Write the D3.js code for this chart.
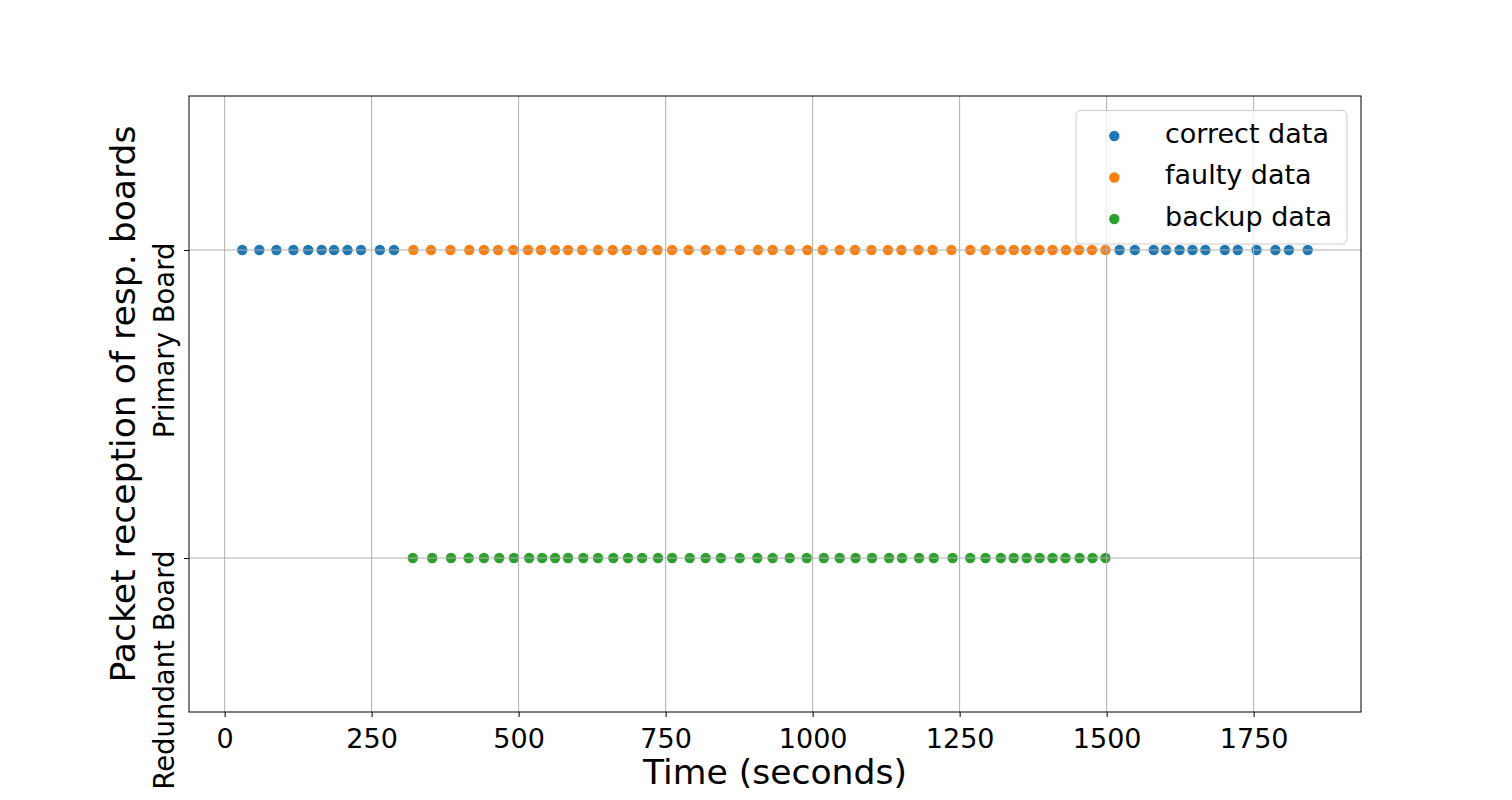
<!DOCTYPE html>
<html>
<head>
<meta charset="utf-8">
<script src="https://cdn.jsdelivr.net/npm/d3@7"></script>
<style>
  html, body { margin: 0; padding: 0; background: #ffffff; }
  svg { display: block; font-family: "DejaVu Sans", sans-serif; }
</style>
</head>
<body>
<svg id="chart" width="1512" height="800"></svg>
<script>
// ---- data ----
const categories = ["Redundant Board", "Primary Board"];
const seriesNames = ["correct data", "faulty data", "backup data"];
const seriesColors = ["#1f77b4", "#ff7f0e", "#2ca02c"];
const seriesBoards = ["Primary Board", "Primary Board", "Redundant Board"];

const correctTimes = [30, 59, 88, 117, 142, 165, 186, 209, 232, 264, 288,
  1522, 1548, 1580, 1601, 1624, 1646, 1668, 1701, 1723, 1755, 1787, 1810, 1842];
const faultyTimes = [321, 351, 384, 416, 441, 465, 491, 516, 538, 562, 584, 608,
  635, 660, 684, 710, 736, 761, 789, 818, 844, 876, 907, 932, 961, 991, 1017,
  1046, 1072, 1100, 1128, 1151, 1180, 1204, 1236, 1268, 1294, 1320, 1342, 1363,
  1386, 1408, 1431, 1453, 1475, 1498];
const backupTimes = [320, 353, 385, 415, 441, 467, 492, 518, 540, 562, 584, 610,
  635, 661, 686, 710, 737, 761, 791, 818, 844, 876, 906, 932, 961, 990, 1019,
  1046, 1073, 1101, 1130, 1152, 1181, 1206, 1238, 1268, 1294, 1320, 1342, 1364,
  1386, 1408, 1430, 1454, 1476, 1498];
const xTickValues = [0, 250, 500, 750, 1000, 1250, 1500, 1750];
const xLabel = "Time (seconds)";
const yLabel = "Packet reception of resp. boards";

const seriesTimes = [correctTimes, faultyTimes, backupTimes];

// ---- layout ----
const svg = d3.select("#chart");
const plot = { left: 189, right: 1361, top: 96, bottom: 712 };

const allTimes = [].concat(...seriesTimes);
const [xmin, xmax] = d3.extent(allTimes);
const pad = (xmax - xmin) * 0.05;
const x = d3.scaleLinear().domain([xmin - pad, xmax + pad]).range([plot.left, plot.right]);
const y = d3.scalePoint().domain(categories).range([plot.bottom, plot.top]).padding(0.5);

svg.append("rect").attr("width", 1512).attr("height", 800).attr("fill", "#fff");

// ---- points ----
const pts = svg.append("g");
seriesTimes.forEach((times, i) => {
  pts.selectAll(null).data(times).enter().append("circle")
    .attr("cx", d => x(d))
    .attr("cy", y(seriesBoards[i]))
    .attr("r", 5.2)
    .attr("fill", seriesColors[i]);
});

// ---- grid (drawn above points like matplotlib) ----
const grid = svg.append("g");
grid.selectAll(null).data(xTickValues).enter().append("line")
  .attr("x1", d => x(d)).attr("x2", d => x(d))
  .attr("y1", plot.top).attr("y2", plot.bottom)
  .attr("stroke", "#b0b0b0").attr("stroke-width", 1);
grid.selectAll(null).data(categories).enter().append("line")
  .attr("x1", plot.left).attr("x2", plot.right)
  .attr("y1", d => y(d)).attr("y2", d => y(d))
  .attr("stroke", "#b0b0b0").attr("stroke-width", 1);

// ---- axes ----
const xAxis = svg.append("g")
  .attr("transform", `translate(0,${plot.bottom})`)
  .call(d3.axisBottom(x).tickValues(xTickValues).tickSize(5).tickPadding(10).tickFormat(d3.format("d")));
xAxis.select(".domain").remove();
xAxis.selectAll(".tick line").attr("stroke", "#000").attr("stroke-width", 1);
xAxis.selectAll(".tick text").attr("font-size", 27).attr("fill", "#000")
  .attr("font-family", "DejaVu Sans").attr("dy", "0.78em");

const yAxis = svg.append("g")
  .attr("transform", `translate(${plot.left},0)`)
  .call(d3.axisLeft(y).tickSize(5));
yAxis.select(".domain").remove();
yAxis.selectAll(".tick line").attr("stroke", "#000").attr("stroke-width", 1);
yAxis.selectAll(".tick text")
  .attr("font-size", 27.5).attr("fill", "#000").attr("font-family", "DejaVu Sans")
  .attr("x", null).attr("dy", null)
  .attr("text-anchor", "end")
  .attr("transform", "translate(-15.5,-8) rotate(-90)");

// frame
svg.append("rect")
  .attr("x", plot.left).attr("y", plot.top)
  .attr("width", plot.right - plot.left).attr("height", plot.bottom - plot.top)
  .attr("fill", "none").attr("stroke", "#000").attr("stroke-width", 1);

// labels
svg.append("text")
  .attr("x", (plot.left + plot.right) / 2).attr("y", 783.5)
  .attr("text-anchor", "middle").attr("font-size", 34.6).attr("fill", "#000")
  .text(xLabel);
svg.append("text")
  .attr("transform", `translate(135,${(plot.top + plot.bottom) / 2}) rotate(-90)`)
  .attr("text-anchor", "middle").attr("font-size", 34.6).attr("fill", "#000")
  .text(yLabel);

// ---- legend ----
const lg = svg.append("g");
lg.append("rect")
  .attr("x", 1076).attr("y", 110.5).attr("width", 271).attr("height", 133.5)
  .attr("rx", 5).attr("ry", 5)
  .attr("fill", "#fff").attr("fill-opacity", 0.8)
  .attr("stroke", "#cccccc").attr("stroke-width", 1);
seriesNames.forEach((name, i) => {
  const cy = 136 + i * 41.5;
  lg.append("circle").attr("cx", 1114.3).attr("cy", cy).attr("r", 5.2).attr("fill", seriesColors[i]);
  lg.append("text").attr("x", 1165).attr("y", cy + 6.5)
    .attr("font-size", 27).attr("fill", "#000").text(name);
});
</script>
</body>
</html>
